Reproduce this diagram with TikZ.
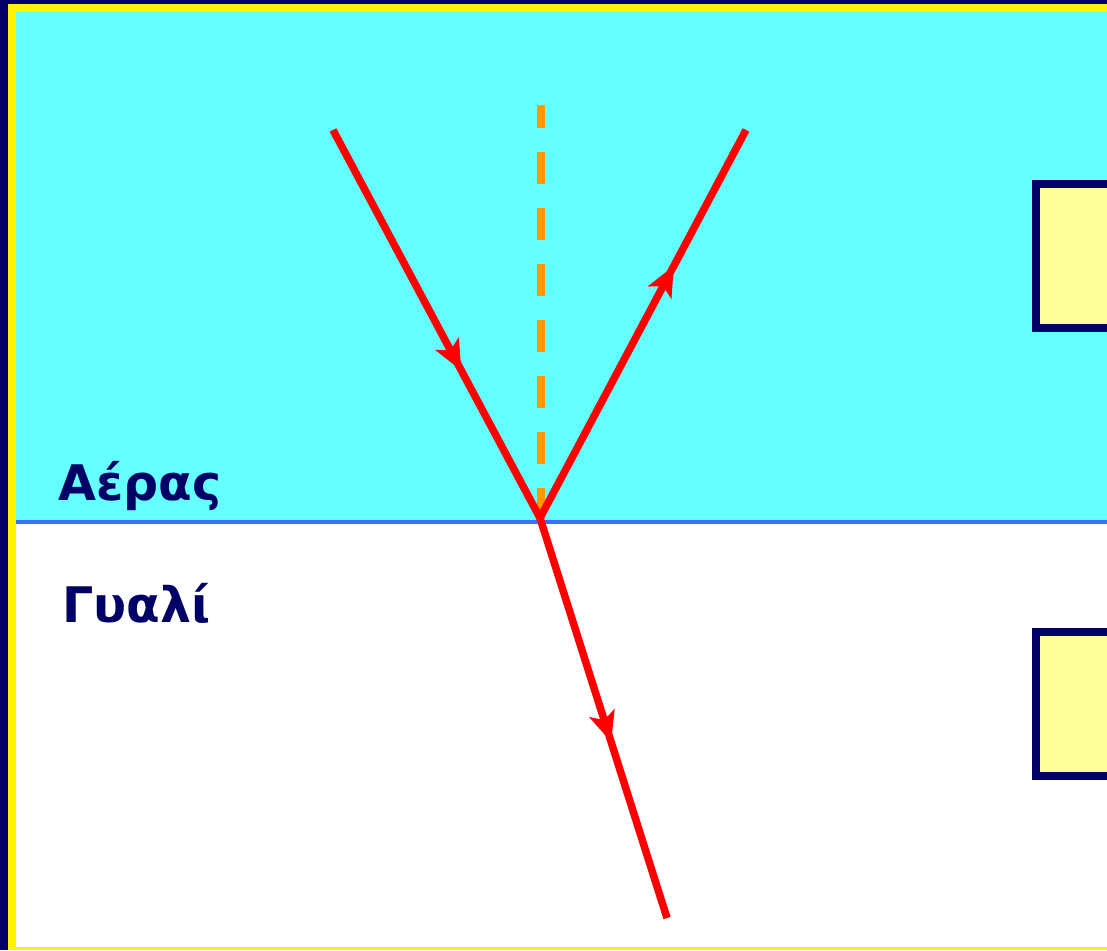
\documentclass[tikz,border=0pt]{standalone}
\usepackage{fontspec}
\setmainfont{DejaVu Sans}
\usetikzlibrary{arrows.meta,decorations.markings}
\definecolor{navy}{HTML}{000066}
\definecolor{aircol}{HTML}{66FFFF}
\definecolor{edgecol}{HTML}{3F6FFF}
\definecolor{boxcol}{HTML}{FFFF99}
\definecolor{normcol}{HTML}{FF9900}
\tikzset{
  ray/.style={draw=red, line width=7.5pt},
  midarrow/.style={postaction={decorate, decoration={markings,
      mark=at position #1 with {\arrow[red]{Stealth[length=30pt,width=26pt,inset=7pt]}}}}},
  medium/.style={font=\bfseries\fontsize{49}{56}\selectfont, text=navy, inner sep=0pt, anchor=base west},
  infobox/.style={draw=navy, fill=boxcol, line width=8pt}
}
\begin{document}
\begin{tikzpicture}[x=1pt, y=-1pt, line join=miter, line cap=butt]
  \clip (0,0) rectangle (1107,950);
  % frame and the two media
  \fill[navy] (0,0) rectangle (1107,950);
  \fill[yellow] (8,4) rectangle (1107,950);
  \fill[aircol] (16,12) rectangle (1107,521);
  \fill[white] (16,521) rectangle (1107,947);
  \draw[edgecol, line width=4pt] (16,522) -- (1107,522);
  \path
  (333,130) coordinate (S)
  (540,518) coordinate (O)
  (746,130) coordinate (R)
  (667,918) coordinate (T)
  (541,105) coordinate (N)
  (541,518) coordinate (N0);
  % normal
  \draw[normcol, line width=8pt, dash pattern=on 32pt off 24pt, dash phase=9pt] (N)--(N0);
  % rays
  \draw[ray, midarrow=0.62] (S)--(O);
  \draw[ray, midarrow=0.65] (O)--(R);
  \draw[ray, midarrow=0.56] (O)--(T);
  \node[medium] (air) at (58,500) {Αέρας};
  \node[medium] (glass) at (62,622) {Γυαλί};
  % boxes at the right edge
  \draw[infobox] (1036,184) rectangle (1130,328);
  \draw[infobox] (1036,632) rectangle (1130,776);
\end{tikzpicture}
\end{document}
